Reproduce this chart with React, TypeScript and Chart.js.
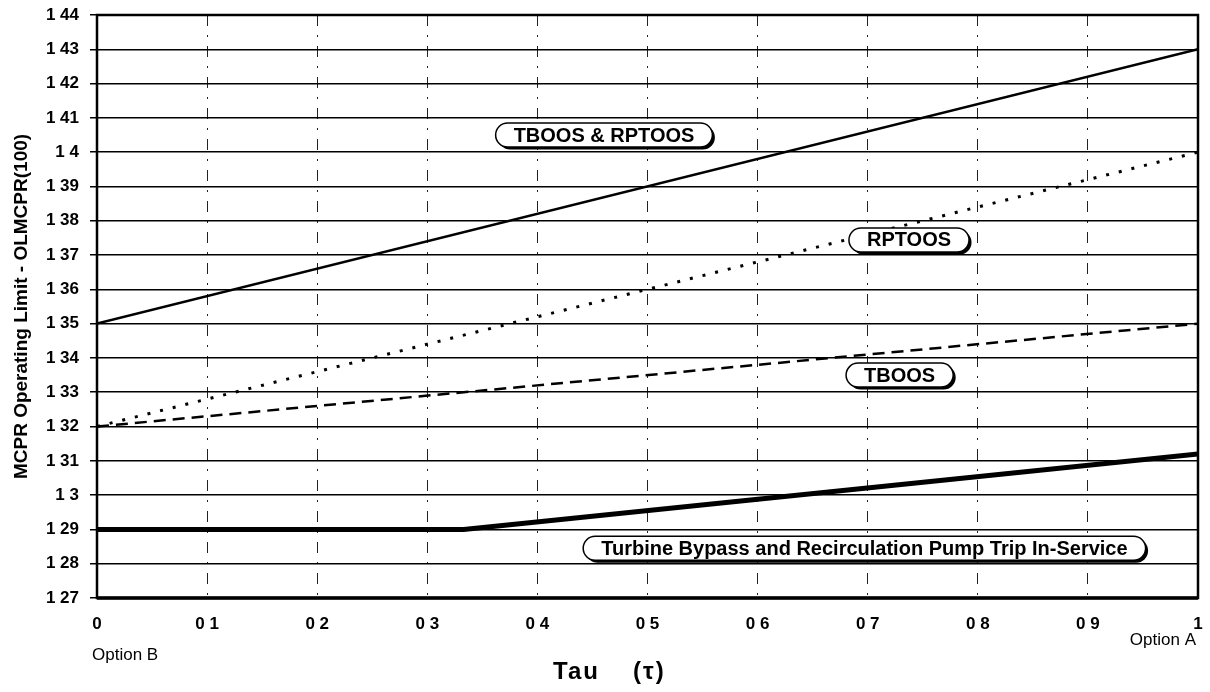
import React, { useEffect, useRef } from "react";
import { Chart, registerables } from "chart.js";

Chart.register(...registerables);

// ---- data ----
const xTickValues = [0, 0.1, 0.2, 0.3, 0.4, 0.5, 0.6, 0.7, 0.8, 0.9, 1];
const xTickLabels = ["0", "0 1", "0 2", "0 3", "0 4", "0 5", "0 6", "0 7", "0 8", "0 9", "1"];
const yTickLabels = [
  "1 27", "1 28", "1 29", "1 3", "1 31", "1 32", "1 33", "1 34", "1 35",
  "1 36", "1 37", "1 38", "1 39", "1 4", "1 41", "1 42", "1 43", "1 44",
];

const tau = [0, 1];
const tboosRptoos = [1.35, 1.43];
const rptoos = [1.32, 1.4];
const tboos = [1.32, 1.35];
const tauInService = [0, 0.333, 1];
const inService = [1.29, 1.29, 1.312];

const boxLabels = ["TBOOS & RPTOOS", "RPTOOS", "TBOOS", "Turbine Bypass and Recirculation Pump Trip In-Service"];
const boxTau = [0.4605, 0.7375, 0.729, 0.697];
const boxValue = [1.405, 1.3744, 1.335, 1.2845];

const FONT = "'Liberation Sans', Arial, Helvetica, sans-serif";

function pill(ctx: CanvasRenderingContext2D, x: number, y: number, w: number, h: number) {
  const r = h / 2;
  ctx.beginPath();
  ctx.moveTo(x + r, y);
  ctx.lineTo(x + w - r, y);
  ctx.arc(x + w - r, y + r, r, -Math.PI / 2, Math.PI / 2);
  ctx.lineTo(x + r, y + h);
  ctx.arc(x + r, y + r, r, Math.PI / 2, (3 * Math.PI) / 2);
  ctx.closePath();
}

const annotPlugin = {
  id: "annot",
  beforeDatasetsDraw(chart: any) {
    const { ctx, chartArea: a } = chart;
    ctx.save();
    ctx.strokeStyle = "#000";
    ctx.lineWidth = 2.5;
    ctx.strokeRect(a.left, a.top, a.right - a.left, a.bottom - a.top);
    ctx.lineWidth = 3.5;
    ctx.beginPath();
    ctx.moveTo(a.left, a.bottom);
    ctx.lineTo(a.right, a.bottom);
    ctx.stroke();
    ctx.restore();
  },
  afterDatasetsDraw(chart: any) {
    const { ctx } = chart;
    const xs = chart.scales.x;
    const ys = chart.scales.y;
    ctx.save();
    ctx.font = `bold 20px ${FONT}`;
    ctx.textAlign = "center";
    ctx.textBaseline = "middle";
    for (let i = 0; i < boxLabels.length; i++) {
      const cx = xs.getPixelForValue(boxTau[i]);
      const cy = ys.getPixelForValue(boxValue[i]);
      const w = ctx.measureText(boxLabels[i]).width + 36;
      const h = 24;
      ctx.fillStyle = "#000";
      pill(ctx, cx - w / 2 + 2.5, cy - h / 2 + 2.5, w, h);
      ctx.fill();
      pill(ctx, cx - w / 2, cy - h / 2, w, h);
      ctx.fillStyle = "#fff";
      ctx.fill();
      ctx.lineWidth = 1.5;
      ctx.strokeStyle = "#000";
      ctx.stroke();
      ctx.fillStyle = "#000";
      ctx.fillText(boxLabels[i], cx, cy + 1);
    }
    ctx.restore();
  },
  afterDraw(chart: any) {
    const { ctx, chartArea: a } = chart;
    ctx.save();
    ctx.fillStyle = "#000";
    ctx.textBaseline = "middle";
    ctx.font = `17px ${FONT}`;
    ctx.textAlign = "left";
    ctx.fillText("Option B", a.left - 5, 655);
    ctx.textAlign = "right";
    ctx.fillText("Option A", a.right - 2, 640);
    ctx.font = `bold 24px ${FONT}`;
    (ctx as any).letterSpacing = "2px";
    ctx.textAlign = "left";
    ctx.fillText("Tau", 553, 672);
    ctx.fillText("(\u03C4)", 633, 672);
    ctx.restore();
  },
};

export default function App() {
  const ref = useRef<HTMLCanvasElement>(null);
  useEffect(() => {
    document.body.style.margin = "0";
    const canvas = ref.current!;
    const chart = new Chart(canvas, {
      type: "line",
      data: {
        datasets: [
          {
            label: "TBOOS & RPTOOS",
            data: tau.map((t, i) => ({ x: t, y: tboosRptoos[i] })),
            borderColor: "#000",
            borderWidth: 2.5,
            pointRadius: 0,
          },
          {
            label: "RPTOOS",
            data: tau.map((t, i) => ({ x: t, y: rptoos[i] })),
            borderColor: "#000",
            borderWidth: 3,
            borderDash: [3, 10],
            pointRadius: 0,
          },
          {
            label: "TBOOS",
            data: tau.map((t, i) => ({ x: t, y: tboos[i] })),
            borderColor: "#000",
            borderWidth: 2.5,
            borderDash: [12, 7],
            pointRadius: 0,
          },
          {
            label: "In-Service",
            data: tauInService.map((t, i) => ({ x: t, y: inService[i] })),
            borderColor: "#000",
            borderWidth: 5,
            pointRadius: 0,
          },
        ],
      },
      options: {
        animation: false,
        responsive: false,
        events: [],
        layout: { padding: { left: 0, top: 15, right: 12, bottom: 0 } },
        plugins: { legend: { display: false }, tooltip: { enabled: false }, title: { display: false } },
        scales: {
          x: {
            type: "linear",
            min: 0,
            max: 1,
            afterBuildTicks: (s: any) => {
              s.ticks = xTickValues.map((v) => ({ value: v }));
            },
            afterFit: (s: any) => {
              s.height = 94;
              s.paddingLeft = 0;
              s.paddingRight = 0;
            },
            ticks: {
              autoSkip: false,
              maxRotation: 0,
              padding: 16,
              color: "#000",
              font: { family: FONT, size: 17, weight: "bold" },
              callback: (_v: any, i: number) => xTickLabels[i],
            },
            grid: {
              drawTicks: false,
              lineWidth: 1,
              color: (c: any) =>
                c.tick && (c.tick.value === 0 || c.tick.value === 1) ? "rgba(0,0,0,0)" : "#222",
            },
            border: { display: false, dash: [11, 9, 2, 9] },
          },
          y: {
            type: "linear",
            min: 1.27,
            max: 1.44,
            afterBuildTicks: (s: any) => {
              s.ticks = yTickLabels.map((_l, i) => ({ value: Math.round((1.27 + i * 0.01) * 100) / 100 }));
            },
            afterFit: (s: any) => {
              s.width = 97;
              s.paddingTop = 0;
              s.paddingBottom = 0;
            },
            ticks: {
              autoSkip: false,
              padding: 11,
              color: "#000",
              font: { family: FONT, size: 17, weight: "bold" },
              callback: (_v: any, i: number) => yTickLabels[i],
            },
            grid: {
              drawTicks: true,
              tickLength: 7,
              lineWidth: 1.5,
              color: "#000",
              tickColor: "#000",
            },
            border: { display: false },
            title: {
              display: true,
              text: "MCPR Operating Limit - OLMCPR(100)",
              color: "#000",
              font: { family: FONT, size: 19, weight: "bold" },
              padding: { top: 10, bottom: 0 },
            },
          },
        },
      },
      plugins: [annotPlugin],
    } as any);
    return () => chart.destroy();
  }, []);
  return (
    <div style={{ width: 1210, height: 692, background: "#fff" }}>
      <canvas ref={ref} width={1210} height={692} style={{ width: 1210, height: 692, display: "block" }} />
    </div>
  );
}
